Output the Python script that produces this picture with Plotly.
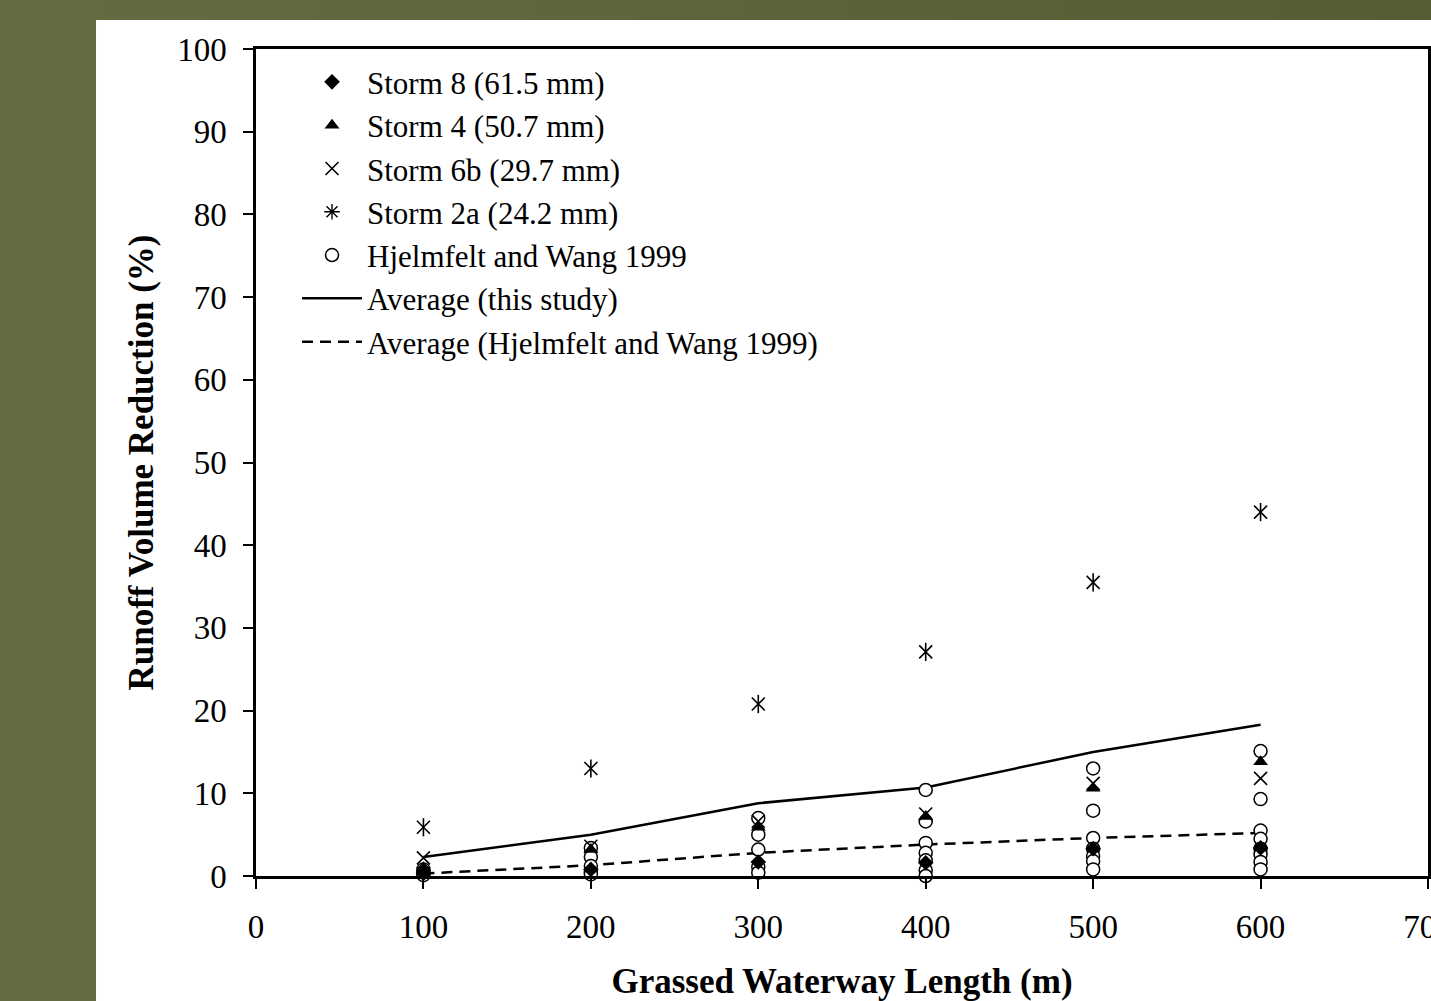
import plotly.graph_objects as go

# ---- data ----
lengths = [100, 200, 300, 400, 500, 600]
storm8 = [0.3, 0.8, 1.7, 1.6, 3.3, 3.4]
storm4 = [1.0, 3.2, 5.9, 7.2, 10.6, 13.8]
storm6b = [2.2, 3.6, 6.6, 7.5, 11.2, 11.8]
storm2a = [5.9, 13.0, 20.8, 27.1, 35.5, 44.0]
avg_this = [2.3, 5.0, 8.8, 10.7, 15.0, 18.3]
avg_hw = [0.3, 1.3, 2.8, 3.8, 4.6, 5.2]

hw_x = ([100] * 4 + [200] * 5 + [300] * 5 + [400] * 7 + [500] * 7 + [600] * 8)
hw_y = ([0.8, 0.5, 0.3, 0.1] +
        [3.4, 2.3, 1.2, 0.5, 0.2] +
        [7.0, 5.0, 3.2, 1.1, 0.4] +
        [10.4, 6.6, 4.0, 2.8, 1.9, 0.7, 0.0] +
        [13.0, 7.9, 4.6, 3.3, 2.4, 1.8, 0.8] +
        [15.1, 9.3, 5.5, 4.5, 3.3, 2.6, 1.7, 0.8])

x_ticks = [0, 100, 200, 300, 400, 500, 600, 700]
y_ticks = [0, 10, 20, 30, 40, 50, 60, 70, 80, 90, 100]

names = ["Storm 8 (61.5 mm)", "Storm 4 (50.7 mm)", "Storm 6b (29.7 mm)",
         "Storm 2a (24.2 mm)", "Hjelmfelt and Wang 1999",
         "Average (this study)", "Average (Hjelmfelt and Wang 1999)"]

FONT = "Liberation Serif, Times New Roman, serif"
fig = go.Figure()

# lines first (drawn below markers), legend order fixed via legendrank
fig.add_trace(go.Scatter(x=lengths, y=avg_this, mode="lines", name=names[5],
                         line=dict(color="black", width=2.5), legendrank=6,
                         cliponaxis=False))
fig.add_trace(go.Scatter(x=lengths, y=avg_hw, mode="lines", name=names[6],
                         line=dict(color="black", width=2.5, dash="11px,7px"),
                         legendrank=7, cliponaxis=False))
fig.add_trace(go.Scatter(x=hw_x, y=hw_y, mode="markers", name=names[4],
                         marker=dict(symbol="circle", size=13, color="white",
                                     line=dict(color="black", width=1.5)),
                         legendrank=5, cliponaxis=False))
fig.add_trace(go.Scatter(x=lengths, y=storm8, mode="markers", name=names[0],
                         marker=dict(symbol="diamond", size=12, color="black"),
                         legendrank=1, cliponaxis=False))
fig.add_trace(go.Scatter(x=lengths, y=storm4, mode="markers", name=names[1],
                         marker=dict(symbol="triangle-up", size=13, color="black"),
                         legendrank=2, cliponaxis=False))
fig.add_trace(go.Scatter(x=lengths, y=storm6b, mode="markers", name=names[2],
                         marker=dict(symbol="x-thin-open", size=13, color="black",
                                     line=dict(color="black", width=1.6)),
                         legendrank=3, cliponaxis=False))
# Storm 2a: x + vertical bar (6-arm asterisk)
fig.add_trace(go.Scatter(x=lengths, y=storm2a, mode="markers", name=names[3],
                         marker=dict(symbol="x-thin-open", size=13, color="black",
                                     line=dict(color="black", width=1.6)),
                         showlegend=False, legendgroup="g4", cliponaxis=False))
fig.add_trace(go.Scatter(x=lengths, y=storm2a, mode="markers", name=names[3],
                         marker=dict(symbol="line-ns-open", size=13, color="black",
                                     line=dict(color="black", width=1.6)),
                         showlegend=False, legendgroup="g4", cliponaxis=False))
fig.add_trace(go.Scatter(x=[None], y=[None], mode="markers", name=names[3],
                         marker=dict(symbol="asterisk-open", size=13, color="black",
                                     line=dict(color="black", width=1.4)),
                         legendrank=4, legendgroup="g4"))

# background: olive slide with white chart panel
shapes = [dict(type="rect", xref="paper", yref="paper", x0=-0.1365, x1=1.05,
               y0=-0.25, y1=1.0351, fillcolor="white", line=dict(width=0),
               layer="below")]
c0 = (0x64, 0x6b, 0x42)
c1 = (0x54, 0x5d, 0x34)
n = 14
for i in range(n):
    t = i / (n - 1)
    col = "rgb(%d,%d,%d)" % tuple(round(a + (b - a) * t) for a, b in zip(c0, c1))
    x0 = -0.22 + i * (1.27 / n)
    shapes.append(dict(type="rect", xref="paper", yref="paper",
                       x0=x0, x1=x0 + 1.27 / n + 0.005,
                       y0=1.0351, y1=1.1, fillcolor=col, line=dict(width=0),
                       layer="below"))

fig.update_layout(
    width=1431, height=1001,
    margin=dict(l=256, r=3, t=49, b=125, autoexpand=False),
    paper_bgcolor="#646b42",
    plot_bgcolor="white",
    font=dict(family=FONT, color="black", size=31),
    shapes=shapes,
    showlegend=True,
    legend=dict(x=0.035, y=0.9925, xanchor="left", yanchor="top",
                bgcolor="rgba(0,0,0,0)", font=dict(size=31, family=FONT),
                traceorder="normal", itemwidth=60),
    xaxis=dict(range=[0, 700], tickvals=x_ticks, ticks="outside", ticklen=10,
               tickwidth=2, tickcolor="black", showgrid=False, zeroline=False,
               showline=True, linecolor="black", linewidth=2.5, mirror=True,
               tickfont=dict(size=33, family=FONT), ticklabelstandoff=10,
               ticklabeloverflow="allow", automargin=False,
               title=dict(text="<b>Grassed Waterway Length (m)</b>",
                          font=dict(size=35, family=FONT), standoff=26)),
    yaxis=dict(range=[0, 100], tickvals=y_ticks, ticks="outside", ticklen=10,
               tickwidth=2, tickcolor="black", showgrid=False, zeroline=False,
               showline=True, linecolor="black", linewidth=2.5, mirror=True,
               tickfont=dict(size=33, family=FONT), ticklabelstandoff=10,
               automargin=False,
               title=dict(text="<b>Runoff Volume Reduction (%)</b>",
                          font=dict(size=35, family=FONT), standoff=13)),
)

fig.write_html("out.html")
